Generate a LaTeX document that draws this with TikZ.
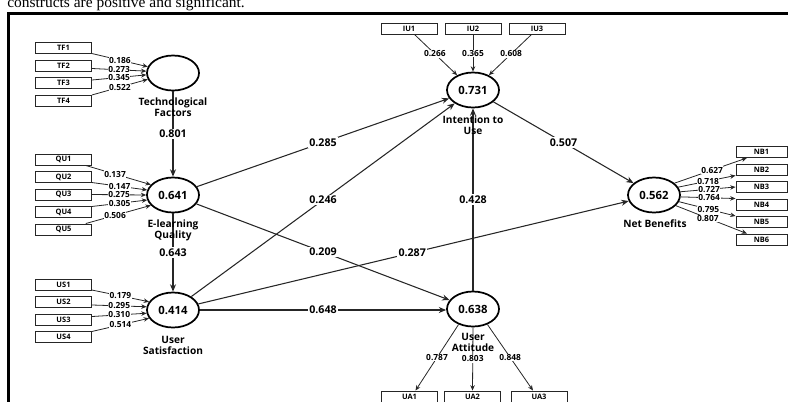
\documentclass[tikz,border=0pt]{standalone}
\usepackage{fontspec}
\setmainfont{Liberation Serif}
\newfontfamily\uifont{Open Sans}
\usetikzlibrary{arrows.meta,shapes.geometric}
\begin{document}
\begin{tikzpicture}[x=0.75pt,y=-0.75pt,
  lv/.style={ellipse,draw,line width=1.3pt,minimum width=39pt,minimum height=26.25pt,inner sep=0pt,font=\uifont\bfseries\fontsize{8.5}{10}\selectfont},
  ind/.style={rectangle,draw=black!85,line width=0.7pt,minimum width=42pt,minimum height=8.25pt,inner sep=0pt,font=\uifont\bfseries\fontsize{5.6}{6}\selectfont},
  indnb/.style={ind,minimum width=38.25pt},
  sarrow/.style={draw=black!85,line width=0.8pt,-{Stealth[length=5.5pt,width=4.5pt]}},
  iarrow/.style={draw=black!85,line width=0.6pt,-{Stealth[length=4pt,width=3.4pt]}},
  coef/.style={fill=white,inner sep=1pt,font=\uifont\bfseries\fontsize{8}{9}\selectfont},
  load/.style={fill=white,inner sep=0.4pt,font=\uifont\bfseries\fontsize{6.3}{6.5}\selectfont},
  lvname/.style={align=center,font=\uifont\bfseries\fontsize{7.6}{8.3}\selectfont}
]
\useasboundingbox (0,0) rectangle (788,401);
\clip (0,0) rectangle (788,401);

% caption fragment and frame
\node[anchor=base west,inner sep=0pt,font=\fontsize{11.6}{13}\selectfont] (cap) at (7,7.5) {constructs are positive and significant.};
\draw[line width=2.1pt] (8.7,410) -- (8.7,13.3) -- (795,13.3);

% latent variables
\node[lv] (tf) at (173,73) {};
\node[lv] (qu) at (173,195) {0.641};
\node[lv] (us) at (173,310) {0.414};
\node[lv] (iu) at (473,90) {0.731};
\node[lv] (ua) at (473,309) {0.638};
\node[lv] (nb) at (654,195) {0.562};

% indicators
\node[ind] (tf1) at (63.5,48) {TF1};
\node[ind] (tf2) at (63.5,65.5) {TF2};
\node[ind] (tf3) at (63.5,83) {TF3};
\node[ind] (tf4) at (63.5,100.5) {TF4};

\node[ind] (qu1) at (63.5,159.5) {QU1};
\node[ind] (qu2) at (63.5,177) {QU2};
\node[ind] (qu3) at (63.5,194.5) {QU3};
\node[ind] (qu4) at (63.5,212) {QU4};
\node[ind] (qu5) at (63.5,229.5) {QU5};

\node[ind] (us1) at (63.5,284.5) {US1};
\node[ind] (us2) at (63.5,302) {US2};
\node[ind] (us3) at (63.5,319.5) {US3};
\node[ind] (us4) at (63.5,337) {US4};

\node[ind] (iu1) at (409,29) {IU1};
\node[ind] (iu2) at (473,29) {IU2};
\node[ind] (iu3) at (537,29) {IU3};

\node[ind] (ua1) at (409.5,396.5) {UA1};
\node[ind] (ua2) at (472.5,396.5) {UA2};
\node[ind] (ua3) at (539,396.5) {UA3};

\node[indnb] (nb1) at (761.5,152) {NB1};
\node[indnb] (nb2) at (761.5,169.5) {NB2};
\node[indnb] (nb3) at (761.5,187) {NB3};
\node[indnb] (nb4) at (761.5,204.5) {NB4};
\node[indnb] (nb5) at (761.5,222) {NB5};
\node[indnb] (nb6) at (761.5,239.5) {NB6};

% measurement arrows
\draw[iarrow] (tf1.-11) -- node[load]{0.186} (tf.166);
\draw[iarrow] (tf2.-6) -- node[load]{0.273} (tf.176);
\draw[iarrow] (tf3.6) -- node[load]{0.345} (tf.184);
\draw[iarrow] (tf4.11) -- node[load]{0.522} (tf.194);

\draw[iarrow] (qu1.-15) -- node[load,pos=0.45]{0.137} (qu.155);
\draw[iarrow] (qu2.-11) -- node[load]{0.147} (qu.169);
\draw[iarrow] (qu3.east) -- node[load]{0.275} (qu.180);
\draw[iarrow] (qu4.11) -- node[load]{0.305} (qu.191);
\draw[iarrow] (qu5.15) -- node[load,pos=0.45]{0.506} (qu.205);

\draw[iarrow] (us1.-11) -- node[load]{0.179} (us.161);
\draw[iarrow] (us2.-6) -- node[load]{0.295} (us.173);
\draw[iarrow] (us3.6) -- node[load]{0.310} (us.187);
\draw[iarrow] (us4.11) -- node[load]{0.514} (us.199);

\draw[iarrow] ([xshift=4.5pt]iu1.south) -- node[load,pos=0.47]{0.266} (iu.137);
\draw[iarrow] (iu2.south) -- node[load]{0.365} (iu.north);
\draw[iarrow] ([xshift=-4.5pt]iu3.south) -- node[load,pos=0.47]{0.608} (iu.43);

\draw[iarrow] (ua.227) -- node[load]{0.787} ([xshift=4.5pt]ua1.north);
\draw[iarrow] (ua.south) -- node[load]{0.803} (ua2.north);
\draw[iarrow] (ua.-47) -- node[load]{0.848} ([xshift=-4.5pt]ua3.north);

\draw[iarrow] (nb.30) -- node[load,pos=0.52]{0.627} ([xshift=-11pt]nb1.south);
\draw[iarrow] (nb.18) -- node[load,pos=0.52]{0.718} (nb2.south west);
\draw[iarrow] (nb.7) -- node[load,pos=0.52]{0.727} (nb3.west);
\draw[iarrow] (nb.-4) -- node[load,pos=0.52]{0.764} (nb4.north west);
\draw[iarrow] (nb.-15) -- node[load,pos=0.52]{0.795} (nb5.north west);
\draw[iarrow] (nb.-26) -- node[load,pos=0.45]{0.807} ([xshift=-11pt]nb6.north);

% structural paths
\draw[sarrow] (tf) -- node[coef]{0.801} (qu);
\draw[sarrow] (qu) -- node[coef]{0.643} (us);
\draw[sarrow] (qu) -- node[coef]{0.285} (iu);
\draw[sarrow] (us) -- node[coef]{0.246} (iu);
\draw[sarrow] (qu) -- node[coef]{0.209} (ua);
\draw[sarrow] (us) -- node[coef,pos=0.497]{0.287} (nb);
\draw[sarrow] (us.east) -- node[coef]{0.648} (ua.west |- us.east);
\draw[sarrow] (ua) -- node[coef]{0.428} (iu);
\draw[sarrow] (iu) -- node[coef]{0.507} (nb);

% construct names
\node[lvname] (tfn) at (173,107.5) {Technological\\Factors};
\node[lvname] (qun) at (173,230.5) {E-learning\\Quality};
\node[lvname] (usn) at (173,345.5) {User\\Satisfaction};
\node[lvname] (iun) at (473,125.5) {Intention to\\Use};
\node[lvname] (uan) at (473,342.5) {User\\Attitude};
\node[lvname] (nbn) at (655,224) {Net Benefits};
\end{tikzpicture}
\end{document}
